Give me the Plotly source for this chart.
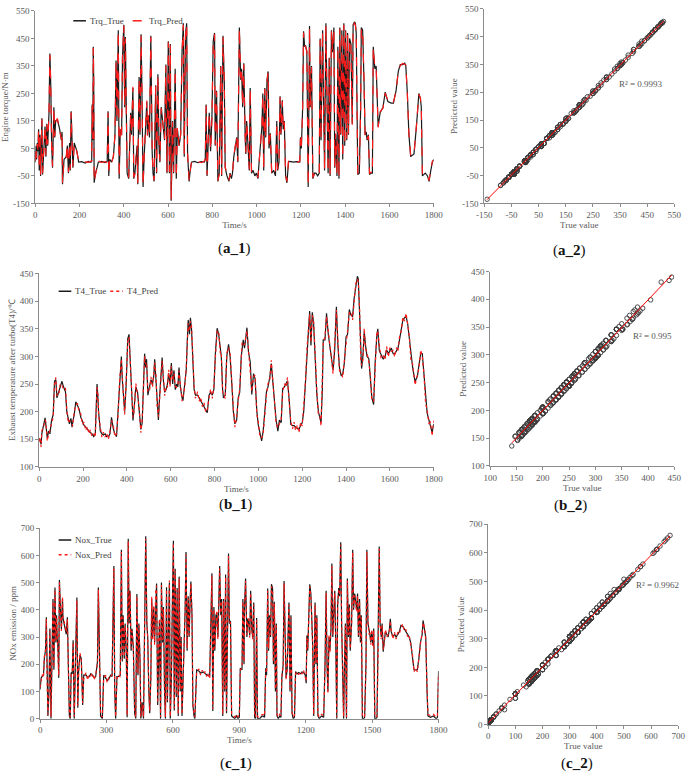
import numpy as np
import plotly.graph_objects as go

# ---------------- data: Engine torque ----------------
trq_t = [0,3,6,9,12,15,18,21,24,27,
 30,33,36,40,44,48,52,56,62,66,
 70,74,78,84,88,92,100,110,118,121,
 123,130,140,145,150,155,158,162,166,170,
 176,182,188,196,210,225,240,252,255,257,
 260,262,264,266,272,279,285,300,315,325,
 329,332,336,345,353,360,365,369,372,375,
 379,384,390,394,400,404,407,411,415,422,
 427,431,435,438,441,445,450,456,460,463,
 469,473,478,482,487,492,498,504,507,512,
 516,522,528,532,537,544,548,554,559,563,
 569,574,578,584,590,595,601,606,610,614,
 620,625,632,637,642,650,657,663,669,673,
 679,684,688,695,700,706,720,735,750,764,
 768,772,776,782,786,792,798,804,810,813,
 819,825,831,838,842,848,854,858,866,875,
 880,886,891,897,903,910,915,918,922,928,
 932,937,942,948,951,955,959,967,971,977,
 984,992,999,1006,1014,1018,1024,1028,1032,1037,
 1041,1047,1052,1056,1062,1068,1077,1085,1091,1095,
 1101,1106,1110,1116,1120,1125,1131,1137,1144,1151,
 1165,1180,1195,1198,1202,1208,1212,1217,1221,1227,
 1233,1239,1242,1248,1254,1261,1268,1276,1283,1287,
 1291,1298,1302,1307,1313,1318,1323,1328,1332,1338,
 1343,1349,1353,1357,1363,1367,1372,1376,1380,1385,
 1389,1394,1398,1402,1407,1411,1415,1420,1426,1432,
 1436,1442,1446,1450,1454,1457,1464,1470,1473,1479,
 1485,1490,1495,1499,1505,1510,1517,1523,1527,1534,
 1540,1546,1549,1558,1571,1581,1593,1608,1618,1630,
 1640,1649,1659,1669,1674,1681,1688,1696,1711,1722,
 1733,1740,1744,1749,1762,1772,1779,1787,1794,1800]
trq_true = [0,60,10,70,40,120,-30,100,-50,30,
 160,-45,0,60,130,20,140,60,180,395,
 280,60,-20,200,90,150,155,120,80,110,
 -80,10,20,60,-40,70,-30,185,40,-20,
 70,50,40,0,2,-3,3,0,5,210,
 80,420,300,-75,-40,-20,0,3,-2,2,
 185,-50,10,0,20,100,370,150,300,480,
 -60,120,100,380,500,200,455,100,-40,-60,
 60,180,100,190,270,-60,-40,20,60,-80,
 310,100,465,250,-90,20,140,220,100,170,
 90,460,40,-40,-70,280,-40,320,60,0,
 200,150,120,80,355,-40,440,-40,430,-140,
 150,-40,340,-60,120,60,100,400,505,20,
 470,505,30,-70,-30,0,3,-2,2,0,
 10,210,-50,100,180,40,160,440,470,60,
 260,-70,-40,350,-50,460,290,-20,-50,-70,
 -40,-60,-40,20,60,90,0,190,490,300,
 340,200,360,100,30,150,100,-30,270,-40,
 -30,-50,-40,-60,30,70,130,250,-30,270,
 90,300,330,50,105,-40,-30,-50,150,-30,
 0,240,100,225,120,150,-50,-75,0,3,
 0,2,0,90,50,200,476,420,425,400,
 -90,495,200,350,-60,-40,-40,-50,-40,450,
 80,480,250,-30,505,100,-40,380,-50,480,
 400,490,-20,100,-50,420,-60,490,100,480,
 10,505,60,480,80,470,100,450,430,140,
 500,510,505,470,200,-45,-40,200,490,480,
 300,100,110,80,100,-45,-40,-40,420,340,
 350,200,130,180,200,255,220,215,215,260,
 330,355,355,360,350,250,100,20,30,130,
 250,230,200,-50,-40,-50,-70,-30,0,10]
trq_pred = [4,55,15,66,45,116,-25,104,-46,26,
 156,-40,4,57,134,25,136,64,176,390,
 284,55,-16,196,94,146,159,116,84,106,
 -76,14,17,64,-36,66,-26,181,45,-16,
 66,54,37,4,-2,1,-1,4,2,205,
 84,415,304,-70,-44,-16,4,-1,2,-2,
 180,-45,14,-3,24,96,366,155,296,476,
 -55,124,96,384,496,205,450,104,-36,-56,
 64,176,104,186,274,-55,-44,24,56,-76,
 305,104,460,255,-85,24,136,224,96,174,
 94,455,44,-36,-66,276,-36,316,64,4,
 196,154,116,84,350,-36,435,-36,425,-135,
 146,-36,336,-56,124,56,104,396,500,25,
 466,500,34,-66,-34,4,-1,2,-2,4,
 14,205,-46,104,176,44,156,436,466,64,
 256,-66,-44,346,-46,455,294,-16,-46,-66,
 -44,-56,-36,24,56,94,4,186,485,305,
 336,205,356,104,34,146,104,-26,266,-36,
 -34,-46,-44,-56,34,66,134,246,-26,266,
 94,296,326,54,101,-36,-34,-46,146,-26,
 4,236,104,221,124,146,-46,-70,4,-1,
 4,-2,4,86,54,196,471,424,420,404,
 -85,490,204,346,-56,-44,-36,-46,-44,445,
 84,476,254,-26,500,104,-36,376,-46,476,
 404,485,-16,104,-46,416,-56,486,104,476,
 14,500,64,476,84,466,104,446,434,136,
 496,505,500,466,205,-41,-36,196,486,476,
 304,96,106,84,96,-41,-36,-44,416,344,
 346,204,126,184,196,251,224,211,219,256,
 334,351,359,356,354,246,104,24,26,134,
 246,234,196,-46,-44,-46,-66,-26,4,6]

# ---------------- data: T4 exhaust temperature ----------------
t4_t = [0,4,9,12,19,27,31,37,43,49,
 56,64,70,76,81,89,96,104,111,120,
 126,132,138,145,150,153,160,167,175,182,
 190,197,205,212,220,227,234,241,249,256,
 264,268,271,279,286,293,301,308,316,323,
 330,338,345,353,360,367,375,379,385,390,
 397,404,410,416,422,428,434,441,449,456,
 464,470,476,481,486,490,496,504,510,517,
 523,527,533,538,544,550,556,561,567,573,
 579,585,591,597,603,609,615,621,627,633,
 638,644,652,656,664,671,676,680,686,690,
 695,701,707,713,723,730,737,745,752,760,
 767,775,782,790,797,804,812,819,827,831,
 837,841,849,856,864,871,879,886,893,901,
 908,915,922,926,931,937,948,955,963,970,
 978,985,993,1000,1007,1015,1022,1030,1037,1044,
 1052,1059,1067,1074,1081,1089,1096,1104,1111,1119,
 1126,1133,1141,1148,1156,1163,1170,1178,1185,1193,
 1200,1207,1215,1222,1230,1234,1240,1246,1252,1259,
 1267,1274,1281,1286,1292,1296,1304,1311,1319,1326,
 1333,1341,1348,1356,1363,1370,1378,1385,1393,1400,
 1407,1415,1422,1430,1437,1444,1452,1456,1462,1467,
 1471,1477,1483,1489,1496,1504,1511,1518,1526,1533,
 1541,1545,1552,1560,1570,1578,1585,1593,1600,1607,
 1615,1622,1630,1637,1644,1652,1659,1667,1674,1681,
 1689,1696,1704,1715,1726,1733,1741,1748,1756,1763,
 1770,1778,1785,1793,1800]
t4_true = [152,148,141,160,176,189,175,152,165,160,
 183,195,255,258,225,235,245,255,245,236,
 200,185,178,188,172,180,195,218,210,205,
 190,182,175,172,168,165,162,160,155,160,
 250,225,200,165,160,158,160,155,155,160,
 190,170,160,155,200,262,300,260,220,200,
 250,332,340,280,230,184,210,245,235,200,
 168,180,250,305,280,295,230,245,258,250,
 265,295,260,215,185,230,270,298,255,235,
 240,250,270,250,288,250,275,240,250,245,
 280,245,225,220,250,275,330,366,340,370,
 350,300,240,230,230,225,220,215,210,205,
 198,230,235,230,240,305,351,340,310,300,
 240,225,230,300,322,300,250,200,178,185,
 225,235,300,320,330,315,352,308,290,231,
 269,260,201,175,159,147,165,200,236,245,
 262,287,250,215,185,165,185,180,242,245,
 250,256,220,177,175,175,172,170,168,175,
 180,200,260,310,361,382,320,380,360,300,
 230,200,185,180,240,330,330,378,340,320,
 290,275,310,390,320,280,265,268,290,335,
 340,385,375,372,405,425,445,440,380,300,
 278,300,345,320,300,296,260,225,213,290,
 340,350,310,302,295,300,312,305,310,315,
 305,305,310,315,330,352,365,370,372,360,
 330,300,280,254,265,285,306,305,260,220,
 198,185,175,162,178]
t4_pred = [146,154,136,166,170,185,181,147,160,166,
 178,190,250,262,230,229,250,249,240,242,
 206,180,184,182,178,174,200,212,215,199,
 196,177,181,166,173,160,167,155,160,154,
 244,231,194,170,154,163,154,161,150,165,
 184,176,155,160,194,257,295,266,226,195,
 256,326,335,286,225,190,204,251,230,206,
 162,186,245,300,286,289,236,239,263,244,
 271,289,266,210,191,225,276,292,261,229,
 246,244,276,245,282,256,269,246,244,251,
 274,251,219,226,244,280,325,360,346,364,
 356,294,246,224,236,219,226,209,216,199,
 204,224,241,224,246,299,346,346,304,306,
 234,231,224,306,316,306,244,206,172,191,
 219,241,294,326,324,321,346,314,284,237,
 263,266,195,181,153,153,159,206,230,251,
 256,293,244,221,179,171,179,186,236,251,
 244,262,214,183,169,181,166,176,162,181,
 174,206,254,316,355,376,326,374,366,294,
 236,194,191,174,246,324,336,372,346,314,
 296,269,316,384,326,274,271,262,296,329,
 346,379,381,366,399,431,440,434,386,294,
 284,294,351,314,306,290,266,219,219,284,
 346,344,316,296,301,294,318,299,316,309,
 311,299,316,309,336,346,371,364,378,354,
 336,294,286,248,271,279,312,299,266,214,
 204,179,181,156,184]

# ---------------- data: NOx emission ----------------
nox_t = [0,4,9,15,19,24,28,31,35,40,
 44,49,53,58,62,67,71,74,77,81,
 84,87,92,96,101,103,108,114,118,123,
 127,132,136,140,145,149,154,158,166,170,
 174,180,186,192,197,207,215,222,229,236,
 244,251,259,263,269,273,281,287,296,303,
 310,318,325,333,337,341,347,355,362,367,
 371,375,380,384,389,393,398,402,406,411,
 415,421,427,432,437,442,446,451,455,461,
 467,473,477,482,486,491,495,500,504,508,
 513,517,522,526,531,535,539,544,548,553,
 557,562,566,571,575,579,584,588,593,597,
 602,606,610,615,619,624,628,633,637,641,
 646,650,655,659,664,669,673,677,681,686,
 690,695,699,707,717,725,732,740,746,752,
 757,766,772,776,780,785,789,794,798,803,
 807,811,816,820,825,829,834,838,842,847,
 851,855,860,865,872,879,887,894,900,904,
 912,916,921,923,928,934,938,941,947,951,
 956,960,965,969,973,978,982,992,1000,1007,
 1014,1019,1023,1028,1032,1036,1041,1045,1050,1054,
 1058,1063,1067,1070,1076,1082,1088,1092,1098,1102,
 1107,1111,1116,1120,1124,1129,1133,1138,1143,1149,
 1154,1161,1168,1176,1183,1190,1198,1202,1205,1209,
 1214,1218,1223,1227,1231,1236,1242,1246,1250,1255,
 1261,1271,1281,1287,1292,1296,1300,1305,1309,1314,
 1318,1322,1327,1331,1336,1340,1344,1349,1353,1358,
 1362,1366,1371,1375,1379,1384,1388,1393,1397,1401,
 1407,1412,1416,1421,1425,1430,1434,1438,1443,1447,
 1451,1456,1462,1466,1472,1476,1481,1485,1490,1494,
 1498,1503,1507,1512,1517,1522,1528,1532,1536,1541,
 1545,1550,1554,1560,1566,1572,1578,1582,1586,1594,
 1601,1608,1616,1623,1630,1638,1645,1652,1660,1667,
 1674,1682,1689,1696,1704,1711,1718,1726,1730,1736,
 1742,1748,1752,1763,1777,1789,1795,1800]
nox_true = [107,150,155,160,222,250,373,150,10,100,
 331,0,160,440,180,482,280,380,300,250,
 150,510,400,330,440,370,350,330,310,373,
 230,10,0,170,165,288,0,180,445,40,
 180,234,220,50,160,161,150,155,165,160,
 150,155,210,482,200,10,0,160,150,140,
 145,160,155,561,100,0,155,155,160,621,
 210,380,220,350,250,5,661,350,470,250,
 330,260,20,0,458,160,350,220,0,60,
 0,403,670,350,300,100,20,150,440,300,
 410,280,464,497,50,300,360,0,500,280,
 410,100,0,483,60,300,500,0,150,400,
 654,30,551,80,480,10,522,100,300,10,
 160,180,400,612,250,450,300,420,504,380,
 50,10,0,179,175,168,170,172,165,163,
 160,155,350,534,28,410,250,380,390,300,
 420,561,380,440,10,440,100,530,20,480,
 607,350,360,10,5,0,10,0,5,185,
 180,440,200,400,515,300,367,360,306,470,
 330,300,427,5,0,370,0,0,8,10,
 5,185,160,478,250,380,300,494,480,200,
 430,100,350,10,0,10,5,150,200,506,
 300,150,180,290,427,100,380,20,0,5,
 173,165,170,165,172,170,160,130,306,250,
 380,494,460,350,280,10,427,200,380,10,
 0,10,5,200,470,200,100,300,250,330,
 570,300,450,470,250,0,420,480,450,648,
 350,200,0,200,350,0,515,300,420,250,
 350,621,400,460,420,400,460,300,440,280,
 380,0,0,5,200,621,350,320,306,280,
 320,270,331,0,0,5,300,633,350,300,
 350,246,280,320,310,300,330,367,320,300,
 310,300,310,320,343,340,330,320,310,300,
 280,230,180,179,180,220,280,310,361,330,
 300,100,10,5,10,0,5,175]
nox_pred = [115,142,162,151,230,241,365,158,15,92,
 322,8,168,431,188,473,288,372,308,242,
 158,500,408,322,448,362,358,322,318,365,
 238,16,6,162,173,280,8,188,436,48,
 172,242,212,58,152,169,142,163,157,168,
 142,163,202,474,208,16,6,152,158,132,
 153,152,163,552,108,7,147,163,152,612,
 218,372,228,342,258,12,652,358,462,258,
 322,268,26,6,450,168,342,228,8,52,
 7,395,661,358,292,108,28,142,448,292,
 418,272,472,488,58,292,368,7,491,288,
 402,108,6,475,68,292,508,8,158,392,
 645,38,542,88,472,16,514,108,292,17,
 152,188,392,603,258,442,308,412,496,388,
 58,16,6,171,183,160,178,164,173,155,
 168,147,358,525,36,402,258,372,398,292,
 428,552,388,432,17,432,108,521,28,472,
 598,358,352,16,11,6,16,7,12,177,
 188,432,208,392,506,308,359,368,298,462,
 338,292,419,12,6,362,7,6,14,16,
 11,177,168,470,258,372,308,486,472,208,
 422,108,342,16,6,16,11,158,192,497,
 308,142,188,282,419,108,372,26,6,12,
 165,173,162,173,164,178,152,138,298,258,
 372,486,452,358,272,16,419,208,372,17,
 6,16,11,192,462,208,92,308,242,338,
 561,308,442,462,258,6,412,472,458,639,
 358,192,7,208,342,6,507,308,412,258,
 342,612,408,452,428,392,452,308,432,288,
 372,6,7,11,192,612,358,312,314,272,
 328,262,323,6,7,11,292,624,358,292,
 342,254,272,328,302,308,322,359,328,292,
 318,292,318,312,335,348,322,328,302,308,
 272,238,172,187,172,228,272,318,353,338,
 292,108,16,11,16,6,11,167]

trq_ticks = [-150, -50, 50, 150, 250, 350, 450, 550]
r2_labels = ["R\u00b2 = 0.9993", "R\u00b2 = 0.995", "R\u00b2 = 0.9962"]

# ---------------- figure ----------------
W, H = 696, 777
FONT = "Liberation Serif"
GRAY = "#595959"
AXC = "#8c8c8c"
LEGC = "#404040"

def px_x(p): return p / W
def px_y(p): return 1 - p / H

fig = go.Figure()

def series(t, tv, pv):
    n = min(len(t), len(tv), len(pv))
    return np.array(t[:n], float), np.array(tv[:n], float), np.array(pv[:n], float)

def add_pair(xa, ya, t, tv, pv, names, dash):
    fig.add_trace(go.Scatter(x=t, y=tv, mode="lines", name=names[0], xaxis=xa, yaxis=ya,
                             showlegend=False, line=dict(color="#1a1a1a", width=1.2)))
    fig.add_trace(go.Scatter(x=t, y=pv, mode="lines", name=names[1], xaxis=xa, yaxis=ya,
                             showlegend=False, line=dict(color="#ff1a1a", width=1.2, dash=dash)))

def add_scatter(xa, ya, tv, pv):
    fig.add_trace(go.Scatter(x=tv, y=pv, mode="markers", xaxis=xa, yaxis=ya, showlegend=False,
                             marker=dict(symbol="circle-open", size=4.5, color="#3a3a3a",
                                         line=dict(width=0.9))))
    k, b = np.polyfit(tv, pv, 1)
    xs = np.array([tv.min(), tv.max()])
    fig.add_trace(go.Scatter(x=xs, y=k * xs + b, mode="lines", xaxis=xa, yaxis=ya, showlegend=False,
                             line=dict(color="#ff0000", width=1)))

t1, a_true, a_pred = series(trq_t, trq_true, trq_pred)
t2, b_true, b_pred = series(t4_t, t4_true, t4_pred)
t3, c_true, c_pred = series(nox_t, nox_true, nox_pred)

add_pair("x", "y", t1, a_true, a_pred, ["Trq_True", "Trq_Pred"], "dash")
add_scatter("x2", "y2", a_true, a_pred)
add_pair("x3", "y3", t2, b_true, b_pred, ["T4_True", "T4_Pred"], "dot")
add_scatter("x4", "y4", b_true, b_pred)
add_pair("x5", "y5", t3, c_true, c_pred, ["Nox_True", "Nox_Pred"], "dot")
add_scatter("x6", "y6", c_true, c_pred)

def axis(dom_px, rng, dtick, anchor, horiz, title, tv=None):
    if horiz:
        dom = [px_x(dom_px[0]), px_x(dom_px[1])]
    else:
        dom = [px_y(dom_px[1]), px_y(dom_px[0])]
    d = dict(domain=dom, range=rng, dtick=dtick, tick0=rng[0], anchor=anchor,
             showgrid=False, zeroline=False, showline=True, linecolor=AXC, linewidth=1,
             ticks="outside", ticklen=3, tickcolor=AXC,
             tickfont=dict(family=FONT, size=9, color=GRAY), fixedrange=True,
             title=dict(text=title, font=dict(family=FONT, size=9, color=GRAY), standoff=2))
    if tv is not None:
        d.update(tickmode="array", tickvals=tv, ticktext=[str(v) for v in tv])
    return d

panels = [
    # name, xpx, ypx, xrange, xdtick, yrange, ydtick, xtitle, ytitle, xticks, yticks
    ("1", (28, 437), (6, 201), [0, 1800], 200, [-150, 550], 100, "Time/s",
     "Engine torque/N\u00b7m", None, trq_ticks),
    ("2", (489, 684), (4, 201), [-150, 550], 100, [-150, 550], 100, "True value",
     "Predicted value", trq_ticks, trq_ticks),
    ("3", (32, 437), (272, 468), [0, 1800], 200, [100, 450], 50, "Time/s",
     "Exhaust temperature after turbo(T4)/\u2103", None, None),
    ("4", (495, 684), (270, 467), [100, 450], 50, [100, 450], 50, "True value",
     "Predicted value", None, None),
    ("5", (33, 442), (530, 723), [0, 1800], 300, [0, 700], 100, "Time/s",
     "NOx emission / ppm", None, None),
    ("6", (493, 688), (526, 729), [0, 700], 100, [0, 700], 100, "True value",
     "Predicted value", None, None),
]
lay = {}
for nm, xp, yp, xr, xd, yr, yd, xt, yt, xtv, ytv in panels:
    xk = "xaxis" if nm == "1" else "xaxis" + nm
    yk = "yaxis" if nm == "1" else "yaxis" + nm
    ya_ref = "y" if nm == "1" else "y" + nm
    xa_ref = "x" if nm == "1" else "x" + nm
    lay[xk] = axis(xp, xr, xd, ya_ref, True, xt, xtv)
    lay[yk] = axis(yp, yr, yd, xa_ref, False, yt, ytv)

fig.update_layout(
    width=W, height=H, margin=dict(l=0, r=0, t=0, b=0),
    paper_bgcolor="white", plot_bgcolor="white",
    font=dict(family=FONT, color=GRAY), showlegend=False,
    **lay,
)

def ann(x, y, text, size=9, color=GRAY, xanchor="center"):
    fig.add_annotation(x=px_x(x), y=px_y(y), xref="paper", yref="paper", text=text,
                       showarrow=False, xanchor=xanchor, yanchor="middle",
                       font=dict(family=FONT, size=size, color=color))

def leg_item(x0, y, name, color, dash):
    fig.add_shape(type="line", xref="paper", yref="paper", x0=px_x(x0), x1=px_x(x0 + 13),
                  y0=px_y(y), y1=px_y(y), line=dict(color=color, width=1.5, dash=dash))
    ann(x0 + 15, y, name, size=9, color=LEGC, xanchor="left")

# legends
leg_item(67, 16, "Trq_True", "#1a1a1a", "solid")
leg_item(128, 16, "Trq_Pred", "#ff1a1a", "dash")
leg_item(52, 290, "T4_True", "#1a1a1a", "solid")
leg_item(105, 290, "T4_Pred", "#ff1a1a", "dot")
leg_item(52, 542, "Nox_True", "#1a1a1a", "solid")
leg_item(52, 557, "Nox_Pred", "#ff1a1a", "dot")

# R2 labels
ann(650, 80, r2_labels[0])
ann(662, 335, r2_labels[1])
ann(667, 588, r2_labels[2])

# panel labels
for x, y, s in [(232, 247, "a_1"), (576, 249, "a_2"), (234, 506, "b_1"), (577, 507, "b_2"),
                (234, 768, "c_1"), (584, 768, "c_2")]:
    ann(x, y, "(<b>" + s + "</b>)", size=15, color="#111111")

fig.write_html("out.html", config={"displayModeBar": False},
               post_script="document.body.style.margin='0px';")
